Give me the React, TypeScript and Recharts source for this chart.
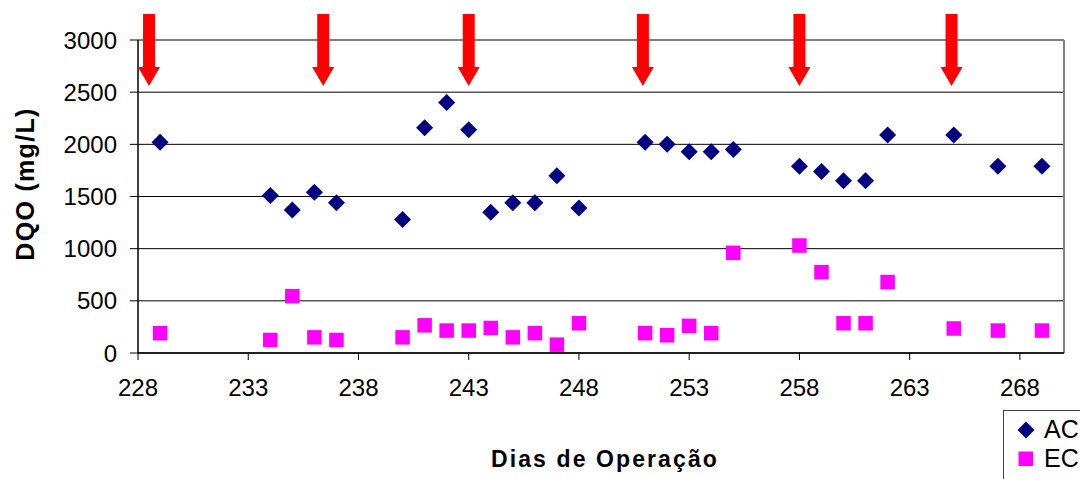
import React from "react";
import {
  ScatterChart,
  Scatter,
  XAxis,
  YAxis,
  CartesianGrid,
  ReferenceLine,
} from "recharts";

// Values.
const AC_DAYS = [229, 234, 235, 236, 237, 240, 241, 242, 243, 244, 245, 246, 247, 248, 251, 252, 253, 254, 255, 258, 259, 260, 261, 262, 265, 267, 269];
const AC_DQO = [2020, 1510, 1370, 1540, 1440, 1280, 2160, 2400, 2140, 1350, 1440, 1440, 1700, 1390, 2020, 2000, 1930, 1930, 1950, 1790, 1740, 1650, 1650, 2090, 2090, 1790, 1790];

const EC_DAYS = [229, 234, 235, 236, 237, 240, 241, 242, 243, 244, 245, 246, 247, 248, 251, 252, 253, 254, 255, 258, 259, 260, 261, 262, 265, 267, 269];
const EC_DQO = [190, 125, 545, 150, 125, 150, 265, 215, 215, 240, 150, 190, 80, 285, 190, 170, 260, 190, 960, 1030, 775, 285, 285, 680, 235, 215, 215];

// days marked with the red arrows, arrow tip level in mg/L
const ARROW_DAYS = [228.5, 236.4, 243, 250.9, 258, 264.9];
const ARROW_TIP = 2560;

const X_TICKS = [228, 233, 238, 243, 248, 253, 258, 263, 268];
const Y_TICKS = [0, 500, 1000, 1500, 2000, 2500, 3000];

const NAVY = "#000080";
const MAGENTA = "#ff00ff";
const RED = "#ff0000";
const FONT = "'Liberation Sans', Arial, sans-serif";

const acData = AC_DAYS.map((x, i) => ({ x, y: AC_DQO[i] }));
const ecData = EC_DAYS.map((x, i) => ({ x, y: EC_DQO[i] }));
const arrowData = ARROW_DAYS.map((x) => ({ x, y: ARROW_TIP }));

function Diamond({ cx, cy }: { cx?: number; cy?: number }) {
  if (cx == null || cy == null) return null;
  const r = 8.5;
  return <polygon points={`${cx},${cy - r} ${cx + r},${cy} ${cx},${cy + r} ${cx - r},${cy}`} fill={NAVY} />;
}

function Square({ cx, cy }: { cx?: number; cy?: number }) {
  if (cx == null || cy == null) return null;
  const s = 14.5;
  return <rect x={cx - s / 2} y={cy - s / 2} width={s} height={s} fill={MAGENTA} />;
}

function Arrow({ cx, cy }: { cx?: number; cy?: number }) {
  if (cx == null || cy == null) return null;
  const head = 19;
  const hw = 11;
  const sw = 6;
  const len = 72;
  const pts = [
    [cx, cy],
    [cx + hw, cy - head],
    [cx + sw, cy - head],
    [cx + sw, cy - len],
    [cx - sw, cy - len],
    [cx - sw, cy - head],
    [cx - hw, cy - head],
  ]
    .map((p) => p.join(","))
    .join(" ");
  return <polygon points={pts} fill={RED} />;
}

function LegendBox() {
  const row = { display: "flex", alignItems: "center", height: 29 } as const;
  return (
    <div
      style={{
        position: "absolute",
        left: 1003,
        top: 410,
        border: "1px solid #404040",
        background: "#fff",
        width: 100,
        height: 100,
        boxSizing: "border-box",
        paddingTop: 4,
        paddingLeft: 12,
        fontFamily: FONT,
        fontSize: 25,
        color: "#000",
      }}
    >
      <div style={row}>
        <svg width={20} height={20} style={{ marginRight: 8 }}>
          <polygon points="10,1.5 18.5,10 10,18.5 1.5,10" fill={NAVY} />
        </svg>
        AC
      </div>
      <div style={row}>
        <svg width={20} height={20} style={{ marginRight: 8 }}>
          <rect x={2.5} y={2.5} width={14.5} height={14.5} fill={MAGENTA} />
        </svg>
        EC
      </div>
    </div>
  );
}

function YLabel({ viewBox }: any) {
  const x = 25;
  const y = (viewBox?.y ?? 40) + 144;
  return (
    <text
      x={x}
      y={y}
      transform={`rotate(-90, ${x}, ${y})`}
      textAnchor="middle"
      dominantBaseline="central"
      fontFamily={FONT}
      fontWeight="bold"
      fontSize={25}
      letterSpacing={1.3}
      fill="#000"
    >
      DQO (mg/L)
    </text>
  );
}

function XLabel({ viewBox }: any) {
  const x = (viewBox?.x ?? 138) + (viewBox?.width ?? 926) / 2 + 4;
  const y = (viewBox?.y ?? 353) + 114;
  return (
    <text
      x={x}
      y={y}
      textAnchor="middle"
      fontFamily={FONT}
      fontWeight="bold"
      fontSize={23}
      letterSpacing={2.1}
      fill="#000"
    >
      Dias de Operação
    </text>
  );
}

export default function App() {
  return (
    <div style={{ position: "absolute", left: 0, top: 0, width: 1080, height: 479, background: "#fff", overflow: "hidden" }}>
      <ScatterChart width={1080} height={479} margin={{ top: 40, right: 16, bottom: 0, left: 0 }}>
        <CartesianGrid horizontal vertical={false} stroke="#000" strokeWidth={1} />
        <XAxis
          type="number"
          dataKey="x"
          domain={[228, 270]}
          ticks={X_TICKS}
          interval={0}
          height={126}
          tickSize={7}
          tickMargin={19}
          axisLine={{ stroke: "#000", strokeWidth: 1.5 }}
          tickLine={{ stroke: "#000" }}
          tick={{ fill: "#000", fontSize: 24, fontFamily: FONT }}
          label={<XLabel />}
        />
        <YAxis
          type="number"
          dataKey="y"
          domain={[0, 3000]}
          ticks={Y_TICKS}
          interval={0}
          width={138}
          tickSize={8}
          tickMargin={13}
          axisLine={{ stroke: "#000", strokeWidth: 1.5 }}
          tickLine={{ stroke: "#000" }}
          tick={{ fill: "#000", fontSize: 24, fontFamily: FONT }}
          label={<YLabel />}
        />
        <ReferenceLine y={3000} stroke="#808080" strokeWidth={2} />
        <ReferenceLine x={270} stroke="#808080" strokeWidth={2} />
        <Scatter name="AC" data={acData} shape={<Diamond />} fill={NAVY} isAnimationActive={false} />
        <Scatter name="EC" data={ecData} shape={<Square />} fill={MAGENTA} isAnimationActive={false} />
        <Scatter name="arrows" data={arrowData} shape={<Arrow />} fill={RED} legendType="none" isAnimationActive={false} />
      </ScatterChart>
      <LegendBox />
    </div>
  );
}
